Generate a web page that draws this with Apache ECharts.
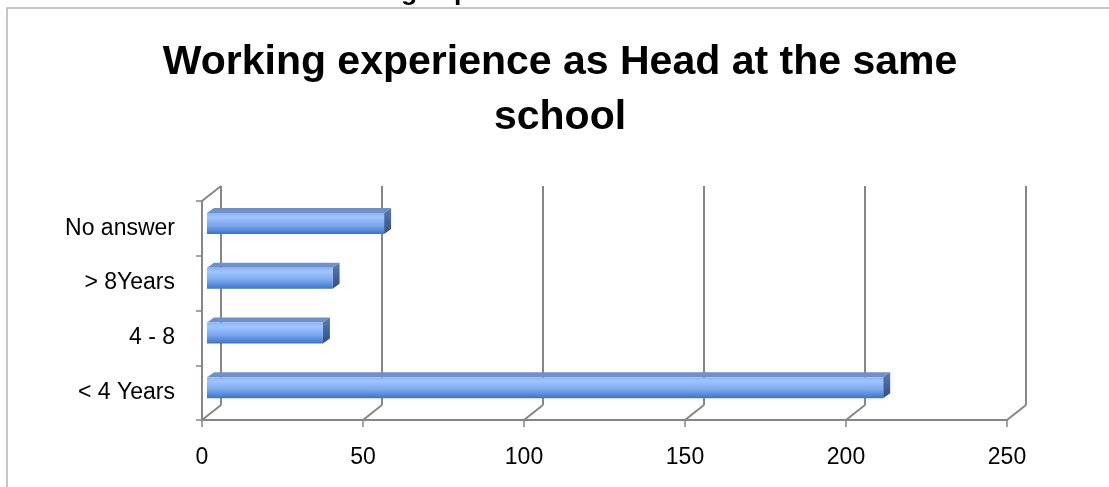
<!DOCTYPE html>
<html>
<head>
<meta charset="utf-8">
<script src="https://cdn.jsdelivr.net/npm/echarts@6/dist/echarts.min.js"></script>
<style>
  html, body { margin: 0; padding: 0; background: #fff; }
  #chart { width: 1109px; height: 487px; }
</style>
</head>
<body>
<div id="chart"></div>
<script>
// data
const categories = ['< 4 Years', '4 - 8', '> 8Years', 'No answer'];
const counts = [210, 36, 39, 55];
const xTicks = [0, 50, 100, 150, 200, 250];

const FONT = 'Liberation Sans';
const LINE = '#868686';
// depth of the 3d box and of the bars
const DX = 19, DY = -15;
const BAR_DX = 5, BAR_DY = -5, BAR_DEPTH_X = 7, BAR_DEPTH_Y = -5, BAR_H = 21;

const chart = echarts.init(document.getElementById('chart'));

// back wall lines + floor diagonals
const renderFrame = (params, api) => {
    const cs = params.coordSys;
    const v = api.value(0);
    const x = api.coord([v, 0])[0];
    const bottom = cs.y + cs.height;
    const style = { stroke: LINE, lineWidth: 2 };
    const children = [
        { type: 'line', shape: { x1: x, y1: bottom, x2: x + DX, y2: bottom + DY }, style: style },
        { type: 'line', shape: { x1: x + DX, y1: bottom + DY, x2: x + DX, y2: cs.y + DY }, style: style }
    ];
    if (v === 0) {
        children.push({ type: 'line', shape: { x1: x, y1: cs.y, x2: x + DX, y2: cs.y + DY }, style: style });
    }
    return { type: 'group', children: children };
};

// 3d looking bar: front face, top face and side face
const renderBar = (params, api) => {
    const idx = api.value(1);
    const p0 = api.coord([0, idx]);
    const p1 = api.coord([api.value(0), idx]);
    const x0 = p0[0] + BAR_DX;
    const x1 = p1[0] + BAR_DX;
    const yc = p0[1] + BAR_DY;
    const top = yc - BAR_H / 2;
    const bot = yc + BAR_H / 2;
    return {
        type: 'group',
        children: [
            {
                type: 'polygon',
                shape: { points: [[x0, top], [x0 + BAR_DEPTH_X, top + BAR_DEPTH_Y], [x1 + BAR_DEPTH_X, top + BAR_DEPTH_Y], [x1, top]] },
                style: { fill: '#7090c9' }
            },
            {
                type: 'polygon',
                shape: { points: [[x1, top], [x1 + BAR_DEPTH_X, top + BAR_DEPTH_Y], [x1 + BAR_DEPTH_X, bot + BAR_DEPTH_Y], [x1, bot]] },
                style: {
                    fill: new echarts.graphic.LinearGradient(0, 0, 0, 1, [
                        { offset: 0, color: '#5a7bb3' },
                        { offset: 1, color: '#2f4f85' }
                    ])
                }
            },
            {
                type: 'rect',
                shape: { x: x0, y: top, width: x1 - x0, height: BAR_H },
                style: {
                    fill: new echarts.graphic.LinearGradient(0, 0, 0, 1, [
                        { offset: 0, color: '#8db3ef' },
                        { offset: 0.2, color: '#9fc5ff' },
                        { offset: 0.6, color: '#7ba7ec' },
                        { offset: 1, color: '#3d74c7' }
                    ])
                }
            }
        ]
    };
};

chart.setOption({
    animation: false,
    backgroundColor: '#fff',
    title: {
        text: 'Working experience as Head at the same\nschool',
        left: 560,
        top: 35,
        textAlign: 'center',
        padding: 0,
        textStyle: { fontFamily: FONT, fontSize: 41, fontWeight: 'bold', color: '#000', lineHeight: 55 }
    },
    graphic: [
        {
            type: 'rect',
            shape: { x: 7, y: 8, width: 1200, height: 600 },
            style: { fill: 'none', stroke: '#b4b4b4', lineWidth: 1.5 },
            silent: true
        },
        {
            // caption above the chart box, cut off by the picture edge
            type: 'text',
            x: 562,
            y: -7,
            style: {
                text: 'Table 3: Working experience as Head at the same school',
                fontFamily: FONT, fontSize: 26.5, fontWeight: 'bold', fill: '#000',
                align: 'center', verticalAlign: 'middle'
            },
            silent: true
        }
    ],
    grid: { left: 202, right: 102, top: 201, bottom: 67 },
    xAxis: {
        type: 'value',
        min: 0,
        max: 250,
        interval: 50,
        axisLine: { show: true, lineStyle: { color: LINE, width: 2 } },
        axisTick: { show: true, length: 7, lineStyle: { color: LINE, width: 1.5 } },
        axisLabel: { fontFamily: FONT, fontSize: 23, color: '#000', margin: 26 },
        splitLine: { show: false }
    },
    yAxis: {
        type: 'category',
        data: categories,
        axisLine: { show: true, lineStyle: { color: LINE, width: 2 } },
        axisTick: { show: true, length: 6, lineStyle: { color: LINE, width: 1.5 } },
        axisLabel: { fontFamily: FONT, fontSize: 23, color: '#000', margin: 27 },
        splitLine: { show: false }
    },
    series: [
        {
            type: 'custom',
            name: 'frame',
            renderItem: renderFrame,
            data: xTicks.map(v => [v, 0]),
            silent: true,
            z: 1
        },
        {
            type: 'custom',
            name: 'count',
            renderItem: renderBar,
            data: counts.map((v, i) => [v, i]),
            z: 3
        }
    ]
});
</script>
</body>
</html>
